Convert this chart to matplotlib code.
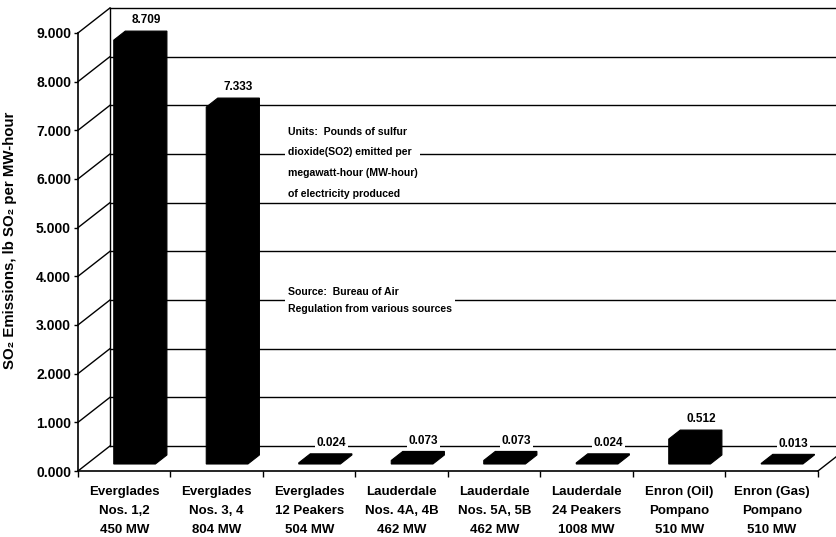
import matplotlib
matplotlib.use('Agg')
import matplotlib.pyplot as plt

plt.rcParams['font.family'] = ['Liberation Sans', 'DejaVu Sans']

categories = ['Everglades\nNos. 1,2\n450 MW',
              'Everglades\nNos. 3, 4\n804 MW',
              'Everglades\n12 Peakers\n504 MW',
              'Lauderdale\nNos. 4A, 4B\n462 MW',
              'Lauderdale\nNos. 5A, 5B\n462 MW',
              'Lauderdale\n24 Peakers\n1008 MW',
              'Enron (Oil)\nPompano\n510 MW',
              'Enron (Gas)\nPompano\n510 MW']
so2_rate = [8.709, 7.333, 0.024, 0.073, 0.073, 0.024, 0.512, 0.013]
y_ticks = [0, 1, 2, 3, 4, 5, 6, 7, 8, 9]
y_ticklabels = ['%.3f' % t for t in y_ticks]

units_note = ('Units:  Pounds of sulfur\ndioxide(SO2) emitted per\n'
              'megawatt-hour (MW-hour)\nof electricity produced')
source_note = 'Source:  Bureau of Air\nRegulation from various sources'

# fake 3d: depth offset of the back wall, in data units
dx, dy = 0.346, 0.514
f0, f1 = 0.28, 0.64          # bar front / back depth fraction
bl, br = 0.29, 0.74          # bar left / right inside a category

fig = plt.figure(figsize=(8.36, 5.37), dpi=100)
ax = fig.add_axes([0, 0, 1, 1])
ax.set_xlim(-0.843, 8.195)
ax.set_ylim(-1.356, 9.677)
n = len(categories)

# walls and gridlines
for t in y_ticks:
    ax.plot([0, dx], [t, t + dy], color='black', lw=1.0, zorder=1)
    ax.plot([dx, n + dx + 1], [t + dy, t + dy], color='black', lw=1.0, zorder=1)
ax.plot([dx, dx], [dy, y_ticks[-1] + dy], color='black', lw=1.0, zorder=1)
ax.plot([n, n + dx], [0, dy], color='black', lw=1.0, zorder=1)

# bars
for i, v in enumerate(so2_rate):
    x0, x1 = i + bl, i + br
    xs = [x0 + f0 * dx, x1 + f0 * dx, x1 + f1 * dx, x1 + f1 * dx, x0 + f1 * dx, x0 + f0 * dx]
    ys = [f0 * dy, f0 * dy, f1 * dy, v + f1 * dy, v + f1 * dy, v + f0 * dy]
    ax.fill(xs, ys, color='black', lw=0.8, ec='black', zorder=3)
    xc = (x0 + x1) / 2 + f1 * dx
    ax.text(xc, v + f1 * dy + 0.22, '%.3f' % v, ha='center', va='center',
            fontsize=8.5, fontweight='bold', zorder=4,
            bbox=dict(boxstyle='square,pad=0.15', fc='white', ec='none'))

# axes
for s in ['top', 'right']:
    ax.spines[s].set_visible(False)
ax.spines['left'].set_position(('data', 0))
ax.spines['bottom'].set_position(('data', 0))
ax.spines['left'].set_bounds(0, y_ticks[-1])
ax.spines['bottom'].set_bounds(0, n)
ax.spines['left'].set_linewidth(1.2)
ax.spines['bottom'].set_linewidth(1.2)

ax.set_yticks(y_ticks)
ax.set_yticklabels(y_ticklabels, fontsize=10, fontweight='bold')
ax.tick_params(axis='y', direction='out', length=3, width=1, pad=2)

ax.set_xticks(range(n + 1))
ax.set_xticklabels([])
ax.set_xticks([i + 0.5 for i in range(n)], minor=True)
ax.set_xticklabels(categories, minor=True, fontsize=9.5, fontweight='bold')
ax.tick_params(axis='x', which='major', direction='out', length=4, width=1)
ax.tick_params(axis='x', which='minor', length=0, pad=11)
for lbl in ax.get_xticklabels(minor=True):
    lbl.set_linespacing(1.75)

ax.set_ylabel('SO₂ Emissions, lb SO₂ per MW-hour', fontsize=10.8, fontweight='bold')
ax.yaxis.set_label_coords(0.02, 0.553)

box = dict(boxstyle='square,pad=0.25', fc='white', ec='none')
ax.text(2.27, 7.07, units_note, ha='left', va='top', fontsize=7.6,
        fontweight='bold', linespacing=2.32, bbox=box, zorder=2)
ax.text(2.27, 3.78, source_note, ha='left', va='top', fontsize=7.6,
        fontweight='bold', linespacing=1.93, bbox=box, zorder=2)

fig.savefig('out.png', dpi=100)
